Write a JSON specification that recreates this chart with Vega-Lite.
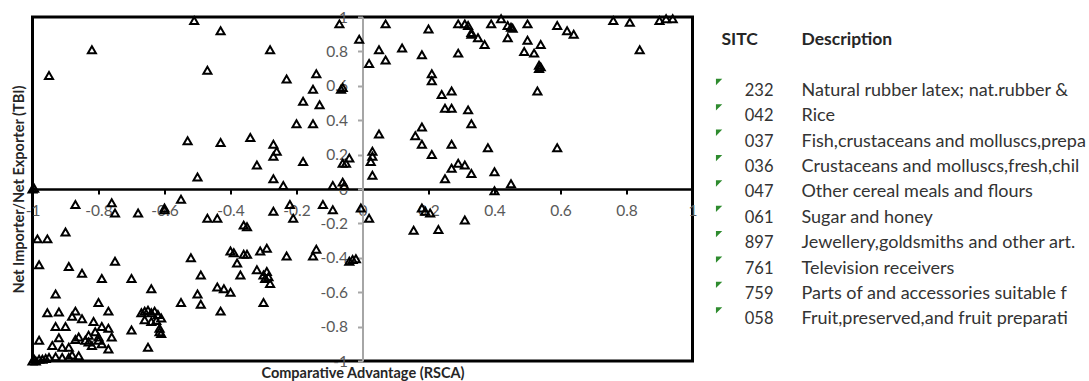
{
  "$schema": "https://vega.github.io/schema/vega-lite/v6.json",
  "padding": {"left": 9.5, "top": 8, "right": 0, "bottom": 0},
  "background": "white",
  "spacing": 0,
  "config": {
    "view": {"stroke": null},
    "font": "Lato",
    "locale": {"number": {"decimal": ".", "thousands": ",", "grouping": [3], "currency": ["$", ""], "minus": "-"}}
  },
  "datasets": {
    "pts": [
      {"x": -0.51, "y": 0.98}, {"x": -0.43, "y": 0.92}, {"x": -0.82, "y": 0.81}, {"x": -0.95, "y": 0.66},
      {"x": -0.47, "y": 0.69}, {"x": -0.53, "y": 0.28}, {"x": -0.43, "y": 0.27}, {"x": -0.34, "y": 0.3},
      {"x": -0.5, "y": 0.07}, {"x": -0.07, "y": 0.96}, {"x": -0.01, "y": 0.87}, {"x": -0.28, "y": 0.81},
      {"x": -0.23, "y": 0.64}, {"x": -0.14, "y": 0.67}, {"x": -0.15, "y": 0.58}, {"x": -0.06, "y": 0.59},
      {"x": -0.065, "y": 0.58}, {"x": -0.18, "y": 0.51}, {"x": -0.13, "y": 0.49}, {"x": -0.2, "y": 0.38},
      {"x": -0.15, "y": 0.38}, {"x": -0.27, "y": 0.26}, {"x": -0.26, "y": 0.22}, {"x": -0.27, "y": 0.19},
      {"x": -0.32, "y": 0.14}, {"x": -0.18, "y": 0.16}, {"x": -0.27, "y": 0.06}, {"x": -0.24, "y": 0.02},
      {"x": -0.09, "y": 0.02}, {"x": -0.06, "y": 0.04}, {"x": -0.055, "y": 0.02}, {"x": -0.06, "y": 0.15},
      {"x": -0.05, "y": 0.15}, {"x": -0.04, "y": 0.18}, {"x": -1.0, "y": 0.0}, {"x": -0.995, "y": 0.005},
      {"x": 0.07, "y": 0.96}, {"x": 0.2, "y": 0.93}, {"x": 0.29, "y": 0.96}, {"x": 0.31, "y": 0.96},
      {"x": 0.32, "y": 0.95}, {"x": 0.33, "y": 0.9}, {"x": 0.02, "y": 0.73}, {"x": 0.05, "y": 0.81},
      {"x": 0.07, "y": 0.75}, {"x": 0.12, "y": 0.82}, {"x": 0.18, "y": 0.78}, {"x": 0.29, "y": 0.79},
      {"x": 0.21, "y": 0.67}, {"x": 0.21, "y": 0.63}, {"x": 0.24, "y": 0.55}, {"x": 0.27, "y": 0.57},
      {"x": 0.25, "y": 0.47}, {"x": 0.27, "y": 0.47}, {"x": 0.32, "y": 0.46}, {"x": 0.33, "y": 0.38},
      {"x": 0.05, "y": 0.32}, {"x": 0.16, "y": 0.31}, {"x": 0.18, "y": 0.36}, {"x": 0.18, "y": 0.26},
      {"x": 0.21, "y": 0.2}, {"x": 0.27, "y": 0.26}, {"x": 0.03, "y": 0.22}, {"x": 0.03, "y": 0.19},
      {"x": 0.025, "y": 0.16}, {"x": 0.03, "y": 0.08}, {"x": 0.25, "y": 0.06}, {"x": 0.27, "y": 0.12},
      {"x": 0.29, "y": 0.15}, {"x": 0.31, "y": 0.14}, {"x": 0.33, "y": 0.09}, {"x": 0.33, "y": 0.91},
      {"x": 0.35, "y": 0.88}, {"x": 0.37, "y": 0.84}, {"x": 0.39, "y": 0.96}, {"x": 0.42, "y": 0.99},
      {"x": 0.44, "y": 0.95}, {"x": 0.45, "y": 0.94}, {"x": 0.455, "y": 0.935}, {"x": 0.44, "y": 0.88},
      {"x": 0.5, "y": 0.96}, {"x": 0.5, "y": 0.865}, {"x": 0.49, "y": 0.8}, {"x": 0.52, "y": 0.79},
      {"x": 0.54, "y": 0.84}, {"x": 0.535, "y": 0.72}, {"x": 0.535, "y": 0.7}, {"x": 0.54, "y": 0.71},
      {"x": 0.53, "y": 0.57}, {"x": 0.59, "y": 0.95}, {"x": 0.62, "y": 0.92}, {"x": 0.64, "y": 0.9},
      {"x": 0.76, "y": 0.98}, {"x": 0.81, "y": 0.97}, {"x": 0.84, "y": 0.81}, {"x": 0.9, "y": 0.98},
      {"x": 0.92, "y": 0.99}, {"x": 0.94, "y": 0.99}, {"x": 0.38, "y": 0.24}, {"x": 0.59, "y": 0.24},
      {"x": 0.4, "y": 0.1}, {"x": 0.45, "y": 0.03}, {"x": 0.4, "y": -0.01},
      {"x": -0.87, "y": -0.09}, {"x": -0.76, "y": -0.08}, {"x": -0.75, "y": -0.14}, {"x": -0.68, "y": -0.14},
      {"x": -0.6, "y": -0.11}, {"x": -0.6, "y": -0.12}, {"x": -0.55, "y": -0.06}, {"x": -0.47, "y": -0.17},
      {"x": -0.44, "y": -0.17}, {"x": -0.36, "y": -0.21}, {"x": -0.985, "y": -0.29}, {"x": -0.955, "y": -0.29},
      {"x": -0.9, "y": -0.25}, {"x": -0.98, "y": -0.44}, {"x": -0.89, "y": -0.45}, {"x": -0.85, "y": -0.49},
      {"x": -0.75, "y": -0.42}, {"x": -0.79, "y": -0.52}, {"x": -0.7, "y": -0.52}, {"x": -0.64, "y": -0.58},
      {"x": -0.52, "y": -0.4}, {"x": -0.49, "y": -0.5}, {"x": -0.55, "y": -0.66}, {"x": -0.5, "y": -0.61},
      {"x": -0.49, "y": -0.67}, {"x": -0.43, "y": -0.71}, {"x": -0.44, "y": -0.57}, {"x": -0.42, "y": -0.58},
      {"x": -0.4, "y": -0.6}, {"x": -0.4, "y": -0.36}, {"x": -0.39, "y": -0.37}, {"x": -0.36, "y": -0.38},
      {"x": -0.38, "y": -0.43}, {"x": -0.37, "y": -0.5}, {"x": -0.93, "y": -0.61}, {"x": -0.955, "y": -0.72},
      {"x": -0.92, "y": -0.715}, {"x": -0.87, "y": -0.71}, {"x": -0.88, "y": -0.74}, {"x": -0.85, "y": -0.755},
      {"x": -0.8, "y": -0.66}, {"x": -0.77, "y": -0.71}, {"x": -0.815, "y": -0.77}, {"x": -0.79, "y": -0.8},
      {"x": -0.77, "y": -0.81}, {"x": -0.93, "y": -0.8}, {"x": -0.9, "y": -0.8}, {"x": -0.92, "y": -0.865},
      {"x": -0.87, "y": -0.875}, {"x": -0.83, "y": -0.85}, {"x": -0.81, "y": -0.83}, {"x": -0.8, "y": -0.86},
      {"x": -0.83, "y": -0.89}, {"x": -0.8, "y": -0.88}, {"x": -0.77, "y": -0.93}, {"x": -0.98, "y": -0.88},
      {"x": -0.94, "y": -0.91}, {"x": -0.91, "y": -0.92}, {"x": -0.89, "y": -0.92}, {"x": -0.84, "y": -0.88},
      {"x": -0.86, "y": -0.86}, {"x": -0.82, "y": -0.91}, {"x": -0.76, "y": -0.86}, {"x": -0.79, "y": -0.9},
      {"x": -0.86, "y": -0.97}, {"x": -0.89, "y": -0.98}, {"x": -0.91, "y": -0.98}, {"x": -0.95, "y": -0.98},
      {"x": -0.97, "y": -0.99}, {"x": -0.98, "y": -0.99}, {"x": -0.99, "y": -1.0}, {"x": -1.0, "y": -1.0},
      {"x": -0.995, "y": -0.99}, {"x": -0.96, "y": -0.985}, {"x": -0.93, "y": -0.975}, {"x": -0.88, "y": -0.965},
      {"x": -0.7, "y": -0.82}, {"x": -0.65, "y": -0.92}, {"x": -0.67, "y": -0.72}, {"x": -0.66, "y": -0.71},
      {"x": -0.65, "y": -0.705}, {"x": -0.64, "y": -0.72}, {"x": -0.63, "y": -0.71}, {"x": -0.62, "y": -0.73},
      {"x": -0.61, "y": -0.75}, {"x": -0.66, "y": -0.76}, {"x": -0.64, "y": -0.77}, {"x": -0.625, "y": -0.765},
      {"x": -0.615, "y": -0.81}, {"x": -0.61, "y": -0.84}, {"x": -0.615, "y": -0.83},
      {"x": -0.27, "y": -0.13}, {"x": -0.22, "y": -0.09}, {"x": -0.21, "y": -0.17}, {"x": -0.12, "y": -0.09},
      {"x": -0.09, "y": -0.12}, {"x": -0.005, "y": -0.11}, {"x": -0.35, "y": -0.22}, {"x": -0.35, "y": -0.38},
      {"x": -0.31, "y": -0.36}, {"x": -0.29, "y": -0.345}, {"x": -0.32, "y": -0.47}, {"x": -0.3, "y": -0.5},
      {"x": -0.29, "y": -0.48}, {"x": -0.285, "y": -0.51}, {"x": -0.295, "y": -0.52}, {"x": -0.28, "y": -0.55},
      {"x": -0.3, "y": -0.66}, {"x": -0.23, "y": -0.39}, {"x": -0.15, "y": -0.39}, {"x": -0.14, "y": -0.35},
      {"x": -0.04, "y": -0.42}, {"x": -0.03, "y": -0.41}, {"x": -0.02, "y": -0.405},
      {"x": 0.02, "y": -0.17}, {"x": 0.18, "y": -0.11}, {"x": 0.19, "y": -0.13}, {"x": 0.205, "y": -0.14},
      {"x": 0.155, "y": -0.24}, {"x": 0.23, "y": -0.235}, {"x": 0.31, "y": -0.18}
    ],
    "tbl": [
      {"k": 1, "sitc": "232", "desc": "Natural rubber latex; nat.rubber &"},
      {"k": 2, "sitc": "042", "desc": "Rice"},
      {"k": 3, "sitc": "037", "desc": "Fish,crustaceans and molluscs,prepa"},
      {"k": 4, "sitc": "036", "desc": "Crustaceans and molluscs,fresh,chil"},
      {"k": 5, "sitc": "047", "desc": "Other cereal meals and flours"},
      {"k": 6, "sitc": "061", "desc": "Sugar and honey"},
      {"k": 7, "sitc": "897", "desc": "Jewellery,goldsmiths and other art."},
      {"k": 8, "sitc": "761", "desc": "Television receivers"},
      {"k": 9, "sitc": "759", "desc": "Parts of and accessories suitable f"},
      {"k": 10, "sitc": "058", "desc": "Fruit,preserved,and fruit preparati"}
    ],
    "hdr": [
      {"c": 0, "h": "SITC"},
      {"c": 1, "h": "Description"}
    ]
  },
  "hconcat": [
    {
      "width": 660,
      "height": 344,
      "view": {"stroke": "black", "strokeWidth": 3},
      "data": {"name": "pts"},
      "mark": {"type": "point", "shape": "triangle-up", "filled": false, "color": "black", "strokeWidth": 2, "size": 65, "opacity": 1},
      "encoding": {
        "x": {
          "field": "x", "type": "quantitative",
          "scale": {"domain": [-1, 1], "nice": false, "zero": false},
          "axis": {
            "title": "Comparative Advantage (RSCA)",
            "orient": "bottom", "offset": -172,
            "values": [-1, -0.8, -0.6, -0.4, -0.2, 0, 0.2, 0.4, 0.6, 0.8, 1],
            "format": ".1~f", "grid": false,
            "domainColor": "black", "domainWidth": 2.5,
            "tickColor": "black", "tickWidth": 2, "tickSize": 5,
            "labelColor": "#595959", "labelFontSize": 15.5, "labelFont": "Lato", "labelPadding": 9,
            "labelOverlap": false, "labelFlush": false, "labelBound": false,
            "titleFont": "Lato", "titleFontSize": 14.5, "titleFontWeight": "bold", "titleColor": "#262626",
            "titleX": 330, "titleY": 184.5, "titleBaseline": "middle"
          }
        },
        "y": {
          "field": "y", "type": "quantitative",
          "scale": {"domain": [-1, 1], "nice": false, "zero": false},
          "axis": {
            "title": "Net Importer/Net Exporter (TBI)",
            "orient": "left", "offset": -330,
            "values": [-1, -0.8, -0.6, -0.4, -0.2, 0, 0.2, 0.4, 0.6, 0.8, 1],
            "format": ".1~f", "grid": false,
            "domainColor": "#a6a6a6", "domainWidth": 2,
            "tickColor": "#a6a6a6", "tickWidth": 2, "tickSize": 5,
            "labelColor": "#595959", "labelFontSize": 15.5, "labelFont": "Lato", "labelPadding": 10,
            "labelOverlap": false, "labelFlush": false, "labelBound": false,
            "titleFont": "Lato", "titleFontSize": 14.5, "titleFontWeight": "bold", "titleColor": "#262626",
            "titleX": -343, "titleY": 172, "titleBaseline": "middle", "titleAngle": -90
          }
        }
      }
    },
    {
      "width": 390,
      "height": 344,
      "data": {"name": "tbl"},
      "layer": [
        {
          "mark": {"type": "point", "shape": "M -1 -1 L 1 -1 L -1 1 Z", "filled": true, "color": "#2e8b2e", "size": 40, "opacity": 1, "yOffset": -9},
          "encoding": {
            "x": {"datum": -0.03, "type": "quantitative", "scale": {"domain": [-0.2875, 4.5875], "nice": false, "zero": false}, "axis": null},
            "y": {"field": "k", "type": "quantitative", "scale": {"domain": [-1.917, 11.643], "nice": false, "zero": false, "reverse": true}, "axis": null}
          }
        },
        {
          "mark": {"type": "text", "align": "left", "baseline": "middle", "font": "Lato", "fontSize": 16.5, "color": "#333333", "dx": 23.3},
          "encoding": {
            "x": {"datum": 0, "type": "quantitative"},
            "y": {"field": "k", "type": "quantitative"},
            "text": {"field": "sitc"}
          }
        },
        {
          "mark": {"type": "text", "align": "left", "baseline": "middle", "font": "Lato", "fontSize": 18, "color": "#333333"},
          "encoding": {
            "x": {"datum": 1, "type": "quantitative"},
            "y": {"field": "k", "type": "quantitative"},
            "text": {"field": "desc"}
          }
        },
        {
          "data": {"name": "hdr"},
          "mark": {"type": "text", "align": "left", "baseline": "middle", "font": "Lato", "fontSize": 17.5, "fontWeight": "bold", "color": "#262626"},
          "encoding": {
            "x": {"field": "c", "type": "quantitative"},
            "y": {"datum": -1, "type": "quantitative"},
            "text": {"field": "h"}
          }
        }
      ]
    }
  ]
}
